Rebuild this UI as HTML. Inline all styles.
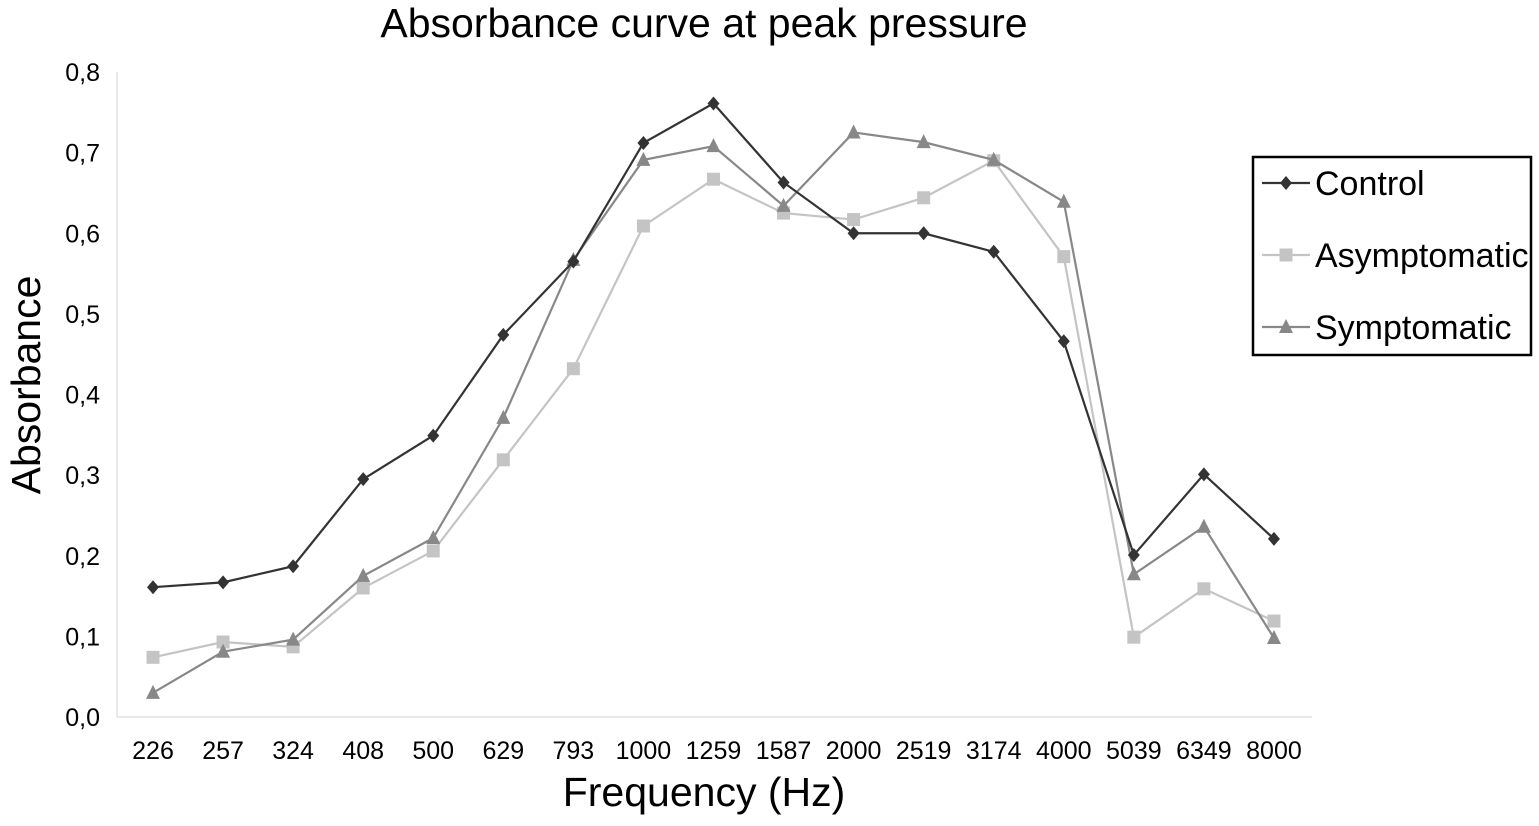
<!DOCTYPE html>
<html><head><meta charset="utf-8"><style>
body{margin:0;background:#fff;}
svg{display:block;font-family:"Liberation Sans",Arial,sans-serif;}
</style></head><body>
<svg id="chart" width="1539" height="826" viewBox="0 0 1539 826">
<text x="704" y="37" font-size="41" text-anchor="middle" fill="#000">Absorbance curve at peak pressure</text>
<text transform="translate(40,385) rotate(-90)" font-size="41" text-anchor="middle" fill="#000">Absorbance</text>
<text x="704" y="806" font-size="41" text-anchor="middle" fill="#000">Frequency (Hz)</text>
<line x1="117" y1="72" x2="117" y2="717" stroke="#e2e2e2" stroke-width="1.5"/>
<line x1="117" y1="717" x2="1312" y2="717" stroke="#e2e2e2" stroke-width="1.5"/>
<g id="yticks"></g><g id="xticks"></g><g id="series"></g>
<g>
<rect x="1253" y="157" width="278" height="198" fill="#fff" stroke="#000" stroke-width="2.5"/>
<g id="legend"></g>
</g>
</svg>
<script>
const categories=["226","257","324","408","500","629","793","1000","1259","1587","2000","2519","3174","4000","5039","6349","8000"];
const control=[0.161,0.167,0.187,0.295,0.349,0.474,0.565,0.712,0.761,0.663,0.600,0.600,0.577,0.466,0.201,0.301,0.221];
const asymptomatic=[0.074,0.093,0.087,0.160,0.206,0.319,0.432,0.609,0.667,0.625,0.617,0.644,0.690,0.571,0.099,0.159,0.119];
const symptomatic=[0.030,0.081,0.096,0.175,0.222,0.371,0.567,0.691,0.708,0.634,0.725,0.713,0.691,0.639,0.177,0.236,0.098];
const yTicks=["0,0","0,1","0,2","0,3","0,4","0,5","0,6","0,7","0,8"];
const seriesNames=["Control","Asymptomatic","Symptomatic"];
const NS="http://www.w3.org/2000/svg";
function x(i){return 153+i*70.06;}
function y(v){return 717-v*806.25;}
function mk(tag,attrs,parent){const e=document.createElementNS(NS,tag);for(const k in attrs)e.setAttribute(k,attrs[k]);parent.appendChild(e);return e;}
const yt=document.getElementById('yticks');
yTicks.forEach((t,i)=>{const e=mk('text',{x:100,y:y(i*0.1)+9,'font-size':25,'text-anchor':'end'},yt);e.textContent=t;

});
const xt=document.getElementById('xticks');
categories.forEach((c,i)=>{const e=mk('text',{x:x(i),y:759,'font-size':25,'text-anchor':'middle'},xt);e.textContent=c;

});
const colors=["#333333","#c4c4c4","#888888"];
const shapes=["diamond","square","triangle"];
function marker(shape,cx,cy,col,parent){
 if(shape==="diamond")return mk('polygon',{points:`${cx},${cy-7} ${cx+6},${cy} ${cx},${cy+7} ${cx-6},${cy}`,fill:col},parent);
 if(shape==="square")return mk('rect',{x:cx-6.5,y:cy-6.5,width:13,height:13,fill:col},parent);
 return mk('polygon',{points:`${cx},${cy-8} ${cx+7},${cy+6} ${cx-7},${cy+6}`,fill:col},parent);
}
const sg=document.getElementById('series');
[asymptomatic,symptomatic,control].forEach((data)=>{
 const k=data===control?0:data===asymptomatic?1:2;
 const g=mk('g',{},sg);
 
 
 const p=mk('polyline',{points:data.map((v,i)=>x(i)+','+y(v)).join(' '),fill:'none',stroke:colors[k],'stroke-width':2.2},g);
 
 
 data.forEach((v,i)=>{const m=marker(shapes[k],x(i),y(v),colors[k],g);
 
 });
});
const lg=document.getElementById('legend');
seriesNames.forEach((n,k)=>{const cy=183+k*72;
 const g=mk('g',{},lg);
 
 
 mk('line',{x1:1262,y1:cy,x2:1310,y2:cy,stroke:colors[k],'stroke-width':2.2},g);
 marker(shapes[k],1286,cy,colors[k],g);
 const t=mk('text',{x:1315,y:cy+12,'font-size':34},g);t.textContent=n;});
</script>
</body></html>
